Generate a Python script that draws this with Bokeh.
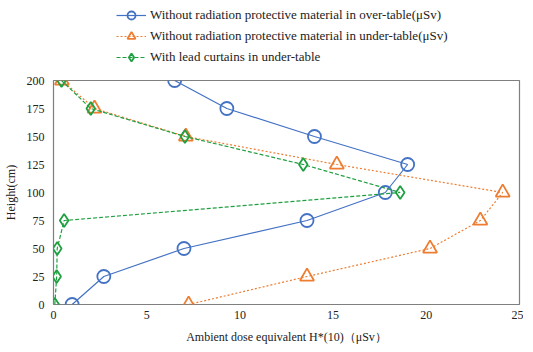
from bokeh.plotting import figure
from bokeh.layouts import column
from bokeh.models import Legend, LegendItem, FixedTicker, Range1d
from bokeh.embed import file_html
from bokeh.resources import INLINE

heights = [0, 25, 50, 75, 100, 125, 150, 175, 200]
over_table = [1.0, 2.7, 7.0, 13.6, 17.8, 19.0, 14.0, 9.3, 6.5]
under_table = [7.25, 13.6, 20.2, 22.9, 24.1, 15.2, 7.1, 2.2, 0.45]
lead_curtain = [0.07, 0.17, 0.2, 0.57, 18.6, 13.4, 7.05, 2.0, 0.43]

labels = [
    "Without radiation protective material in over-table(μSv)",
    "Without radiation protective material in under-table(μSv)",
    "With lead curtains in under-table",
]

FONT = "Liberation Serif"
BLUE = "#4472C4"
ORANGE = "#ED7D31"
GREEN = "#1FA040"
TXT = "#222222"

styles = [
    dict(color=BLUE, dash="solid", marker="circle", size=13),
    dict(color=ORANGE, dash="2 2", marker="triangle", size=14),
    dict(color=GREEN, dash="4 2", marker="diamond", size=13),
]
series = [over_table, under_table, lead_curtain]

# main chart
p = figure(width=523, height=272, output_backend="svg", toolbar_location=None,
           x_range=Range1d(0, 25), y_range=Range1d(0, 200),
           min_border_left=51, min_border_right=4, min_border_top=6, min_border_bottom=0)
p.grid.visible = False
p.outline_line_color = "#7f7f7f"
p.outline_line_width = 1.2

p.xaxis.ticker = FixedTicker(ticks=[0, 5, 10, 15, 20, 25])
p.yaxis.ticker = FixedTicker(ticks=[0, 25, 50, 75, 100, 125, 150, 175, 200])
for ax in (p.xaxis, p.yaxis):
    ax.axis_line_color = None
    ax.major_tick_line_color = None
    ax.minor_tick_line_color = None
    ax.major_tick_out = 0
    ax.major_tick_in = 0
    ax.minor_tick_out = 0
    ax.minor_tick_in = 0
    ax.major_label_text_font = FONT
    ax.major_label_text_font_size = "12px"
    ax.major_label_text_color = TXT
    ax.axis_label_text_font = FONT
    ax.axis_label_text_font_size = "12px"
    ax.axis_label_text_font_style = "normal"
    ax.axis_label_text_color = TXT
p.xaxis.axis_label = "Ambient dose equivalent H*(10)（μSv）"
p.yaxis.axis_label = "Height(cm)"
p.xaxis.major_label_standoff = 6
p.yaxis.major_label_standoff = 9
p.xaxis.axis_label_standoff = 8
p.yaxis.axis_label_standoff = 6

for xs, st in zip(series, styles):
    p.line(xs, heights, line_color=st["color"], line_width=1.2, line_dash=st["dash"])
    p.scatter(xs, heights, marker=st["marker"], size=st["size"], fill_color=None,
              line_color=st["color"], line_width=1.8)

# legend strip on top (its renderers hold the series but lie outside its view)
lg = figure(width=523, height=74, output_backend="svg", toolbar_location=None,
            x_range=Range1d(1000, 1001), y_range=Range1d(1000, 1001),
            min_border=0, x_axis_location=None, y_axis_location=None)
lg.grid.visible = False
lg.outline_line_color = None
items = []
for lab, xs, st in zip(labels, series, styles):
    r_line = lg.line(xs, heights, line_color=st["color"], line_width=1.2, line_dash=st["dash"])
    r_mark = lg.scatter(xs, heights, marker=st["marker"], size=st["size"], fill_color=None,
                        line_color=st["color"], line_width=1.8)
    items.append(LegendItem(label=lab, renderers=[r_line, r_mark]))
legend = Legend(items=items, location=(63, 7), orientation="vertical")
legend.border_line_color = None
legend.background_fill_alpha = 0
legend.label_text_font = FONT
legend.label_text_font_size = "13px"
legend.label_text_color = TXT
legend.glyph_width = 30
legend.glyph_height = 20
legend.label_height = 14
legend.spacing = 1
legend.padding = 0
legend.margin = 0
legend.label_standoff = 4
lg.add_layout(legend, "center")

layout = column(lg, p, spacing=0)
open("out.html", "w").write(file_html(layout, INLINE))
